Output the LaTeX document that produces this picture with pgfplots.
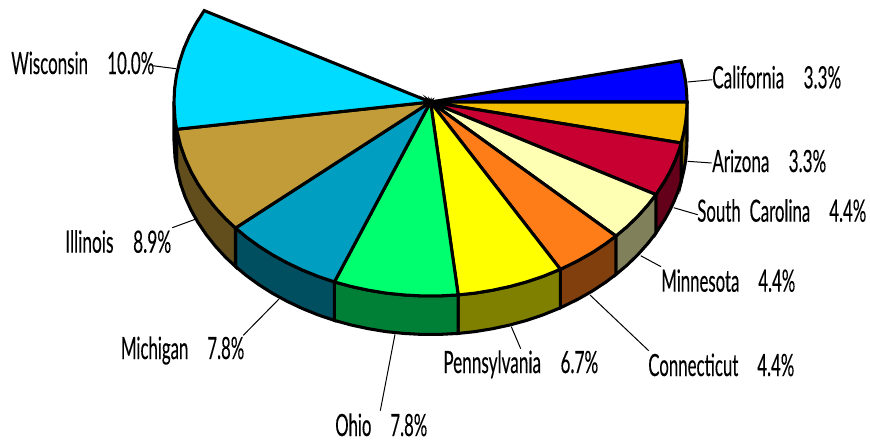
\documentclass[border=0pt]{standalone}
\usepackage{graphicx}
\usepackage{fontspec}
\setmainfont{Lato}[FakeBold=0.25]
\usepackage{pgfplots}
\pgfplotsset{compat=1.18}

\definecolor{cBlue}{HTML}{0000FF}
\definecolor{cGold}{HTML}{F4BE00}
\definecolor{cRed}{HTML}{C80032}
\definecolor{cCream}{HTML}{FFFFB4}
\definecolor{cOrange}{HTML}{FF7D19}
\definecolor{cYellow}{HTML}{FFFF00}
\definecolor{cGreen}{HTML}{00FF6E}
\definecolor{cTeal}{HTML}{009EC0}
\definecolor{cTan}{HTML}{C29C39}
\definecolor{cCyan}{HTML}{00DCFF}
% wall colours: half of the top colour
\definecolor{dGold}{HTML}{7A5F00}
\definecolor{dRed}{HTML}{640019}
\definecolor{dCream}{HTML}{80805A}
\definecolor{dOrange}{HTML}{803F0C}
\definecolor{dYellow}{HTML}{808000}
\definecolor{dGreen}{HTML}{008037}
\definecolor{dTeal}{HTML}{004F60}
\definecolor{dTan}{HTML}{614E1C}
\definecolor{dCyan}{HTML}{006E80}

\newdimen\pxw \pxw=.75pt
% x, baseline y, width in px, text
\newcommand{\lab}[4]{\node[anchor=base west,inner sep=0pt,font=\fontsize{23}{25}\selectfont,text=black] at (axis cs:#1,#2) {\resizebox{#3\pxw}{\height}{#4}};}
\newcommand{\lead}[4]{\addplot[black,line width=.75pt] coordinates {(#1,#2) (#3,#4)};}
\newcommand{\gap}{\hspace{26pt}}

\begin{document}
\begin{tikzpicture}
\begin{axis}[
    scale only axis,
    width=652.5pt, height=330pt,
    xmin=0, xmax=870, ymin=0, ymax=440,
    y dir=reverse,
    hide axis,
    no marks,
    slice/.style={draw=black,line width=2.3pt,line join=miter},
]
% leader lines
\lead{152.7}{65.7}{176}{68.7}
\lead{687.7}{82}{712.3}{79.7}
\lead{687.7}{161.3}{711.7}{163}
\lead{673.7}{207.7}{697.7}{214.7}
\lead{640.7}{255.7}{661}{266.7}
\lead{590}{295}{648.7}{350.7}
\lead{511.3}{326.7}{520.7}{348.7}
\lead{395}{334.3}{380.3}{410.7}
\lead{279}{299}{243.3}{335.3}
\lead{196}{219}{172.3}{227.7}

% side walls
\addplot[slice,fill=dGold] coordinates {(687,102) (686.6,112.2) (685.6,122.3) (683.8,132.3) (681.2,143)
  (681.2,181.5) (683.8,170.8) (685.6,160.8) (686.6,150.7) (687,140.5)} -- cycle;
\addplot[slice,fill=dRed] coordinates {(681.2,143) (678.3,152.2) (674.4,162) (670,171.5) (664.8,180.9) (655.9,194.6)
  (655.9,233.1) (664.8,219.4) (670,210) (674.4,200.5) (678.3,190.7) (681.2,181.5)} -- cycle;
\addplot[slice,fill=dCream] coordinates {(655.9,194.6) (648,204.8) (638,216) (627,226.7) (615.9,236)
  (615.9,274.5) (627,265.2) (638,254.5) (648,243.3) (655.9,233.1)} -- cycle;
\addplot[slice,fill=dOrange] coordinates {(615.9,236) (605.4,243.9) (591.9,252.8) (577.6,260.9) (560.4,269.3)
  (560.4,307.8) (577.6,299.4) (591.9,291.3) (605.4,282.4) (615.9,274.5)} -- cycle;
\addplot[slice,fill=dYellow] coordinates {(560.4,269.3) (542.9,276.4) (526.6,281.9) (509.8,286.5) (492.6,290.2) (475,293.1) (458.2,294.9)
  (458.2,333.4) (475,331.6) (492.6,328.7) (509.8,325) (526.6,320.4) (542.9,314.9) (560.4,307.8)} -- cycle;
\addplot[slice,fill=dGreen] coordinates {(458.2,294.9) (439.5,295.9) (421.5,295.9) (403.7,294.9) (386,293.1) (368.4,290.2) (351.2,286.5) (334.4,281.9)
  (334.4,320.4) (351.2,325) (368.4,328.7) (386,331.6) (403.7,333.4) (421.5,334.4) (439.5,334.4) (458.2,333.4)} -- cycle;
\addplot[slice,fill=dTeal] coordinates {(334.4,281.9) (318.1,276.4) (302.3,270) (287.1,262.8) (272.6,254.9) (258.9,246.2) (246,236.8) (235.5,228)
  (235.5,266.5) (246,275.3) (258.9,284.7) (272.6,293.4) (287.1,301.3) (302.3,308.5) (318.1,314.9) (334.4,320.4)} -- cycle;
\addplot[slice,fill=dTan] coordinates {(235.5,228) (225.6,218.8) (215.4,207.7) (206.2,196.1) (198,184) (191,171.5) (185.2,158.7) (180.6,145.6) (176.6,129.3)
  (176.6,167.8) (180.6,184.1) (185.2,197.2) (191,210) (198,222.5) (206.2,234.6) (215.4,246.2) (225.6,257.3) (235.5,266.5)} -- cycle;
\addplot[slice,fill=dCyan] coordinates {(176.6,129.3) (175,118.9) (174,102) (174,140.5) (175,157.4) (176.6,167.8)} -- cycle;

% top faces
\addplot[slice,fill=cBlue] coordinates {(430.5,102) (681.1,60.7) (683.8,71.7) (685.6,81.7) (686.6,91.8) (687,102)} -- cycle;
\addplot[slice,fill=cGold] coordinates {(430.5,102) (687,102) (686.6,112.2) (685.6,122.3) (683.8,132.3) (681.2,143)} -- cycle;
\addplot[slice,fill=cRed] coordinates {(430.5,102) (681.2,143) (678.3,152.2) (674.4,162) (670,171.5) (664.8,180.9) (655.9,194.6)} -- cycle;
\addplot[slice,fill=cCream] coordinates {(430.5,102) (655.9,194.6) (648,204.8) (638,216) (627,226.7) (615.9,236)} -- cycle;
\addplot[slice,fill=cOrange] coordinates {(430.5,102) (615.9,236) (605.4,243.9) (591.9,252.8) (577.6,260.9) (560.4,269.3)} -- cycle;
\addplot[slice,fill=cYellow] coordinates {(430.5,102) (560.4,269.3) (542.9,276.4) (526.6,281.9) (509.8,286.5) (492.6,290.2) (475,293.1) (458.2,294.9)} -- cycle;
\addplot[slice,fill=cGreen] coordinates {(430.5,102) (458.2,294.9) (439.5,295.9) (421.5,295.9) (403.7,294.9) (386,293.1) (368.4,290.2) (351.2,286.5) (334.4,281.9)} -- cycle;
\addplot[slice,fill=cTeal] coordinates {(430.5,102) (334.4,281.9) (318.1,276.4) (302.3,270) (287.1,262.8) (272.6,254.9) (258.9,246.2) (246,236.8) (235.5,228)} -- cycle;
\addplot[slice,fill=cTan] coordinates {(430.5,102) (235.5,228) (225.6,218.8) (215.4,207.7) (206.2,196.1) (198,184) (191,171.5) (185.2,158.7) (180.6,145.6) (176.6,129.3)} -- cycle;
\addplot[slice,fill=cCyan] coordinates {(430.5,102) (176.6,129.3) (175,118.9) (174,102) (174.6,88.5) (176.5,75) (179.6,61.7) (183.9,48.5) (189.5,35.6) (196.2,23.1) (204.2,10.6)} -- cycle;

% labels
\lab{11}{74}{143}{Wisconsin\gap 10.0\%}
\lab{712}{88.3}{129}{California\gap 3.3\%}
\lab{712}{172}{114}{Arizona\gap 3.3\%}
\lab{697}{221.7}{169}{South\hspace{12pt}Carolina\gap 4.4\%}
\lab{661}{291.7}{134}{Minnesota\gap 4.4\%}
\lab{648}{376}{146}{Connecticut\gap 4.4\%}
\lab{443}{373}{155}{Pennsylvania\gap 6.7\%}
\lab{335}{436}{92}{Ohio\gap 7.8\%}
\lab{120.7}{359}{123.3}{Michigan\gap 7.8\%}
\lab{65}{252.7}{106}{Illinois\gap 8.9\%}
\end{axis}
% hide axis leaves the box tight round the drawing, keep the full frame
\path[use as bounding box] (0,0) rectangle (652.5pt,330pt);
\end{tikzpicture}
\end{document}
